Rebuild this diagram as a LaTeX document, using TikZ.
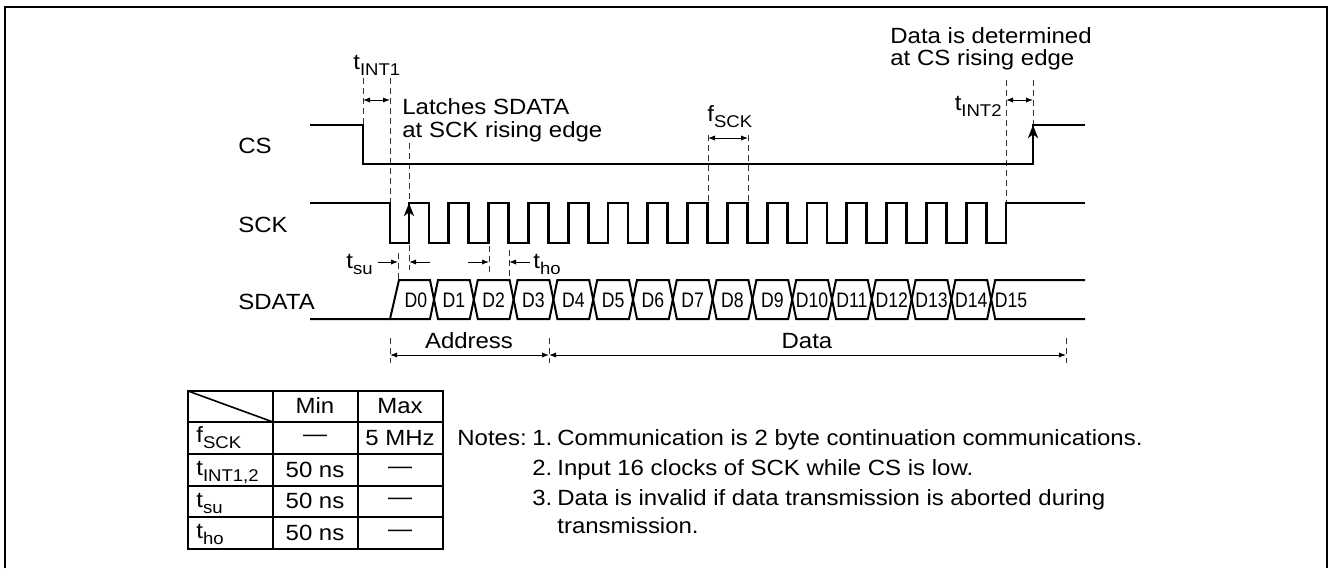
\documentclass[tikz,border=0pt]{standalone}
\usepackage{fontspec}
\usepackage{graphicx}
\setmainfont{Liberation Sans}[FakeStretch=1.09]
\newfontfamily\narrowsans{Liberation Sans}[FakeStretch=0.84]
\usetikzlibrary{arrows.meta}
% lowered, smaller subscript used in the timing labels
\newcommand\sbs[1]{\raisebox{-3pt}{\fontsize{8.5pt}{9pt}\selectfont #1}}
\begin{document}
\begin{tikzpicture}[x=0.5pt,y=-0.5pt,
  wave/.style={line width=1.4pt, line join=miter},
  bus/.style={line width=1pt, line join=miter},
  guideline/.style={line width=0.5pt, black!80, dash pattern=on 3pt off 2pt},
  dimarrow/.style={line width=0.5pt, {Latex[length=3.5pt,width=2.6pt]}-{Latex[length=3.5pt,width=2.6pt]}},
  onearrow/.style={line width=0.5pt, -{Latex[length=3.5pt,width=2.6pt]}},
  edgearrow/.style={wave, -{Stealth[length=6.5pt,width=5pt,inset=1.8pt]}},
  lbl/.style={inner sep=0pt, font=\fontsize{11pt}{13pt}\selectfont},
  dlbl/.style={inner sep=0pt, font=\narrowsans\fontsize{10.5pt}{12pt}\selectfont},
  tablerule/.style={line width=0.8pt}]
\useasboundingbox (0,0) rectangle (1328,568);

% outer frame
\draw[line width=1pt] (5,568) -- (5,7) -- (1327,7) -- (1327,568);

% signal names
\node[lbl, anchor=base west] (lcs)   at (238,153) {CS};
\node[lbl, anchor=base west] (lsck)  at (238,232) {SCK};
\node[lbl, anchor=base west] (lsdat) at (238,309) {SDATA};

% guide lines
\draw[guideline] (363,78) -- (363,125);
\draw[guideline] (390,78) -- (390,203);
\draw[guideline] (409,143) -- (409,203);
\draw[guideline] (409,245) -- (409,270);
\draw[guideline] (398,253) -- (398,280);
\draw[guideline] (489,246) -- (489,272);
\draw[guideline] (509,250) -- (509,280);
\draw[guideline] (708,135) -- (708,203);
\draw[guideline] (748,135) -- (748,203);
\draw[guideline] (1006,80) -- (1006,203);
\draw[guideline] (1033,80) -- (1033,125);
\draw[guideline] (390,338) -- (390,363);
\draw[guideline] (549,338) -- (549,363);
\draw[guideline] (1066,338) -- (1066,363);

% CS
\draw[wave] (310,125) -- (363,125) -- (363,164) -- (1033,164) -- (1033,125) -- (1085,125);
\draw[edgearrow] (1033,164) -- (1033,125);

% SCK: 16 clocks
\draw[wave] (310,203) -- (390,203) -- (390,243)
  foreach \k in {0,...,14}{ -- ({409+39.8*\k},243) -- ({409+39.8*\k},203)
     -- ({429+39.8*\k},203) -- ({429+39.8*\k},243) }
  -- (1006,243) -- (1006,203) -- (1085,203);
\draw[edgearrow] (409,243) -- (409,203);

% SDATA bus
\draw[bus] (310,319) -- (390,319) -- (399,280)
  foreach \m in {0,...,6}{ -- ({430+79.6*\m},280) -- ({438+79.6*\m},319)
     -- ({469.8+79.6*\m},319) -- ({477.8+79.6*\m},280) }
  -- (987.2,280) -- (995.2,319) -- (1085,319);
\draw[bus] (390,319)
  foreach \m in {0,...,6}{ -- ({430+79.6*\m},319) -- ({438+79.6*\m},280)
     -- ({469.8+79.6*\m},280) -- ({477.8+79.6*\m},319) }
  -- (987.2,319) -- (995.2,280) -- (1085,280);
\node[dlbl] (d0) at (416,300) {D0};
\foreach \k in {1,...,15}
  \node[dlbl] (d\k) at ({453.9+39.8*(\k-1)},300) {D\k};

% timing annotations
\draw[dimarrow] (363,100) -- (390,100);
\node[lbl, anchor=base west] (tint1) at (353,69) {t\sbs{INT1}};
\node[lbl, anchor=base west] (latch1) at (402,114) {Latches SDATA};
\node[lbl, anchor=base west] (latch2) at (402,137) {at SCK rising edge};

\draw[dimarrow] (708,138) -- (748,138);
\node[lbl, anchor=base west] (fsck) at (707,121) {f\sbs{SCK}};

\draw[dimarrow] (1006,100) -- (1033,100);
\node[lbl, anchor=base east] (tint2) at (1002,110) {t\sbs{INT2}};
\node[lbl, anchor=base west] (det1) at (890,43) {Data is determined};
\node[lbl, anchor=base west] (det2) at (890,65) {at CS rising edge};

\draw[onearrow] (378,262) -- (398,262);
\draw[onearrow] (430,262) -- (409,262);
\node[lbl, anchor=base east] (tsu) at (373,268) {t\sbs{su}};
\draw[onearrow] (468,262) -- (489,262);
\draw[onearrow] (530,262) -- (509,262);
\node[lbl, anchor=base west] (tho) at (533,268) {t\sbs{ho}};

\draw[dimarrow] (390,355) -- (549,355);
\draw[dimarrow] (549,355) -- (1066,355);
\node[lbl, anchor=base] (addr) at (469,348) {Address};
\node[lbl, anchor=base] (data) at (807,348) {Data};

% parameter table
\draw[tablerule] (188,391) rectangle (443,549);
\draw[tablerule] (273,391) -- (273,549);
\draw[tablerule] (358,391) -- (358,549);
\foreach \y in {422,454,486,517} \draw[tablerule] (188,\y) -- (443,\y);
\draw[tablerule] (188,391) -- (273,422);
\node[lbl, anchor=base] (hmin) at (315,413) {Min};
\node[lbl, anchor=base] (hmax) at (400,413) {Max};
\node[lbl, anchor=base west] (r1) at (196,442) {f\sbs{SCK}};
\node[lbl, anchor=base west] (r2) at (196,475) {t\sbs{INT1,2}};
\node[lbl, anchor=base west] (r3) at (196,507) {t\sbs{su}};
\node[lbl, anchor=base west] (r4) at (196,538) {t\sbs{ho}};
\node[lbl] (r1a) at (315,438) {\textemdash};
\node[lbl, anchor=base] (r1b) at (400,445) {5 MHz};
\node[lbl, anchor=base] (r2a) at (315,477) {50 ns};
\node[lbl] (r2b) at (400,470) {\textemdash};
\node[lbl, anchor=base] (r3a) at (315,508.5) {50 ns};
\node[lbl] (r3b) at (400,501.5) {\textemdash};
\node[lbl, anchor=base] (r4a) at (315,540) {50 ns};
\node[lbl] (r4b) at (400,533) {\textemdash};

% notes
\node[lbl, anchor=base west] (notes) at (457,445) {Notes:};
\node[lbl, anchor=base west] (n1) at (532,445) {1.};
\node[lbl, anchor=base west] (n1t) at (557,445) {Communication is 2 byte continuation communications.};
\node[lbl, anchor=base west] (n2) at (532,475) {2.};
\node[lbl, anchor=base west] (n2t) at (557,475) {Input 16 clocks of SCK while CS is low.};
\node[lbl, anchor=base west] (n3) at (532,505) {3.};
\node[lbl, anchor=base west] (n3t) at (557,505) {Data is invalid if data transmission is aborted during};
\node[lbl, anchor=base west] (n3u) at (557,533) {transmission.};
\end{tikzpicture}
\end{document}
